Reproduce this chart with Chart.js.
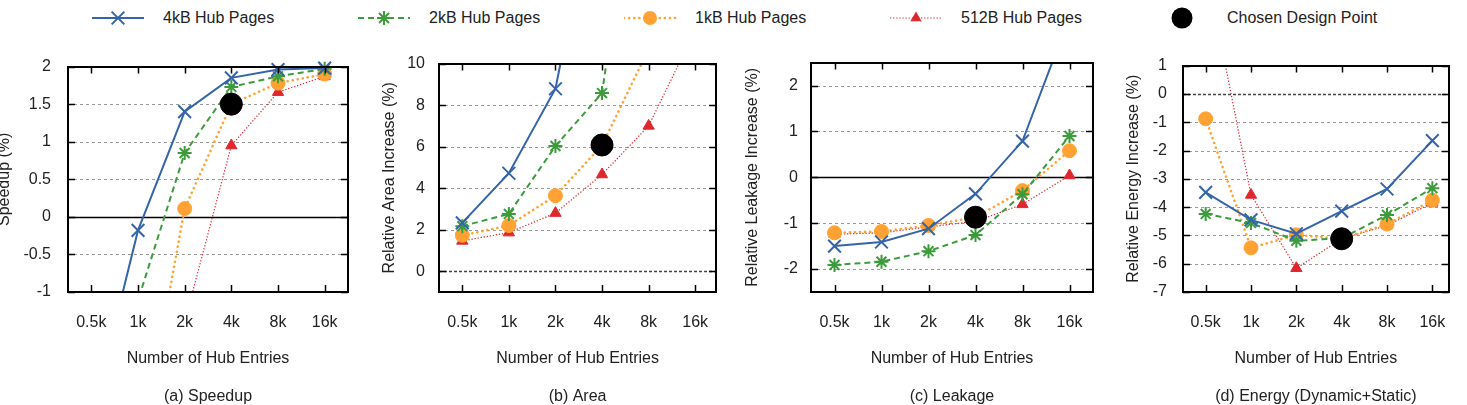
<!DOCTYPE html>
<html><head><meta charset="utf-8">
<script src="https://cdn.jsdelivr.net/npm/chart.js@4.4.0/dist/chart.umd.min.js"></script>
<style>
html,body{margin:0;padding:0;background:#fff;overflow:hidden;}
body{width:1467px;height:405px;position:relative;font-family:"Liberation Sans",Arial,sans-serif;}
.pane{position:absolute;top:40px;height:365px;}
.li{position:absolute;top:6px;height:24px;font-size:16px;color:#222;line-height:24px;white-space:nowrap;}
.li svg{position:absolute;left:0;top:0;}
.li span{position:absolute;left:71px;top:0;}
</style></head><body>
<div id="legend"></div>
<div class="pane" style="left:-10px;width:370px"><canvas id="ca" width="370" height="365"></canvas></div>
<div class="pane" style="left:360px;width:370px"><canvas id="cb" width="370" height="365"></canvas></div>
<div class="pane" style="left:730px;width:375px"><canvas id="cc" width="375" height="365"></canvas></div>
<div class="pane" style="left:1105px;width:362px"><canvas id="cd" width="362" height="365"></canvas></div>
<script>
// ---------- data ----------
const xLabels = ['0.5k', '1k', '2k', '4k', '8k', '16k'];
const seriesNames = ['4kB Hub Pages', '2kB Hub Pages', '1kB Hub Pages', '512B Hub Pages'];
const chosenName = 'Chosen Design Point';
const chosenIndex = 3; // 4k entries

// (a) Speedup (%)
const speedup4kB  = [-2.7, -0.18, 1.40, 1.85, 1.96, 1.98];
const speedup2kB  = [-4.2, -1.11, 0.85, 1.73, 1.87, 1.97];
const speedup1kB  = [-7.5, -3.3, 0.11, 1.50, 1.78, 1.90];
const speedup512B = [-12, -5.5, -1.40, 0.95, 1.66, 1.87];
const speedupChosen = 1.50;
const speedupTicks = [-1, -0.5, 0, 0.5, 1, 1.5, 2];

// (b) Area (%)
const area4kB  = [2.33, 4.72, 8.79, 20, 45, 90];
const area2kB  = [2.17, 2.76, 6.03, 8.58, 24, 50];
const area1kB  = [1.73, 2.20, 3.64, 6.06, 10.7, 20];
const area512B = [1.46, 1.86, 2.80, 4.66, 7.0, 11.6];
const areaChosen = 6.08;
const areaTicks = [0, 2, 4, 6, 8, 10];

// (c) Leakage (%)
const leak4kB  = [-1.50, -1.41, -1.12, -0.36, 0.79, 3.5];
const leak2kB  = [-1.91, -1.84, -1.61, -1.26, -0.37, 0.90];
const leak1kB  = [-1.21, -1.18, -1.05, -0.87, -0.29, 0.58];
const leak512B = [-1.24, -1.21, -1.08, -0.96, -0.59, 0.04];
const leakChosen = -0.87;
const leakTicks = [-2, -1, 0, 1, 2];

// (d) Energy (%)
const energy4kB  = [-3.48, -4.45, -4.94, -4.14, -3.36, -1.65];
const energy2kB  = [-4.24, -4.56, -5.19, -5.10, -4.28, -3.33];
const energy1kB  = [-0.88, -5.44, -4.98, -5.12, -4.60, -3.76];
const energy512B = [4.55, -3.57, -6.16, -5.12, -4.65, -3.85];
const energyChosen = -5.12;
const energyTicks = [-7, -6, -5, -4, -3, -2, -1, 0, 1];

// ---------- styles ----------
const FONT = '"Liberation Sans", Arial, sans-serif';
const TXT = '#222';
const styles = [
  {color:'#3565a8', dash:[], width:2, cap:'butt', point:'crossRot', radius:9, pw:2},
  {color:'#3c9c3c', dash:[6,4], width:2, cap:'butt', point:'star', radius:7, pw:2},
  {color:'#ffa233', dash:[0.1,5], width:2.6, cap:'round', point:'circle', radius:7, pw:1},
  {color:'#e0262e', dash:[1.3,1.8], width:1.2, cap:'butt', point:'triangle', radius:6.5, pw:1}
];

Chart.defaults.font.family = FONT;
Chart.defaults.font.size = 16;
Chart.defaults.color = TXT;

const framePlugin = {
  id: 'frame',
  beforeDatasetsDraw(chart, args, o) {
    const {ctx, chartArea: a, scales: {y}} = chart;
    ctx.save();
    o.ticks.forEach(v => {
      if (v <= y.min || v >= y.max) return;
      const py = Math.round(y.getPixelForValue(v)) + 0.5;
      ctx.beginPath();
      if (v === 0) {
        ctx.strokeStyle = o.zero === 'solid' ? '#000' : '#444';
        ctx.lineWidth = o.zero === 'solid' ? 1.3 : 1.3;
        ctx.setLineDash(o.zero === 'solid' ? [] : [3, 2]);
      } else {
        ctx.strokeStyle = '#9a9a9a';
        ctx.lineWidth = 1;
        ctx.setLineDash([3, 3]);
      }
      ctx.moveTo(a.left, py); ctx.lineTo(a.right, py); ctx.stroke();
    });
    ctx.restore();
  },
  afterDatasetsDraw(chart, args, o) {
    const {ctx, chartArea: a, scales: {x, y}} = chart;
    ctx.save();
    ctx.strokeStyle = '#000';
    ctx.lineWidth = 1.5;
    ctx.setLineDash([]);
    const L = 7;
    xLabels.forEach((_, i) => {
      const px = Math.round(x.getPixelForValue(i)) + 0.5;
      ctx.beginPath();
      ctx.moveTo(px, a.bottom); ctx.lineTo(px, a.bottom - L);
      ctx.moveTo(px, a.top); ctx.lineTo(px, a.top + L);
      ctx.stroke();
    });
    o.ticks.forEach(v => {
      const py = Math.round(y.getPixelForValue(v)) + 0.5;
      ctx.beginPath();
      ctx.moveTo(a.left, py); ctx.lineTo(a.left + L, py);
      ctx.moveTo(a.right, py); ctx.lineTo(a.right - L, py);
      ctx.stroke();
    });
    ctx.lineWidth = 2;
    ctx.strokeRect(Math.round(a.left), Math.round(a.top), Math.round(a.right - a.left), Math.round(a.bottom - a.top));
    ctx.restore();
  },
  afterDraw(chart, args, o) {
    const {ctx, chartArea: a} = chart;
    ctx.save();
    ctx.font = '16px ' + FONT;
    ctx.fillStyle = TXT;
    ctx.textAlign = 'center';
    ctx.textBaseline = 'middle';
    ctx.fillText(o.caption, (a.left + a.right) / 2, a.bottom + 105);
    ctx.restore();
  }
};

function makeSeries(vals, i, clip) {
  const s = styles[i];
  const d = {
    label: seriesNames[i],
    data: vals.map((v, k) => ({x: k, y: v})),
    borderColor: s.color, backgroundColor: s.color,
    borderWidth: s.width, borderDash: s.dash, borderCapStyle: s.cap,
    pointStyle: s.point, pointRadius: s.radius, pointBorderWidth: s.pw,
    pointBorderColor: s.color, pointBackgroundColor: s.color,
    order: i + 1
  };
  if (clip) d.clip = clip;
  return d;
}

function makeChart(id, P) {
  const datasets = P.series.map((v, i) => makeSeries(v, i, P.clip));
  datasets.push({
    label: chosenName,
    data: [{x: chosenIndex, y: P.chosen}],
    showLine: false, pointStyle: 'circle', pointRadius: 11,
    pointBackgroundColor: '#000', pointBorderColor: '#000', pointBorderWidth: 1,
    order: 0
  });
  new Chart(document.getElementById(id), {
    type: 'line',
    data: {datasets},
    options: {
      responsive: false, animation: false, events: [],
      layout: {padding: {left: 0, right: P.padR, top: 19, bottom: 0}},
      plugins: {
        legend: {display: false}, tooltip: {enabled: false},
        frame: {ticks: P.ticks, zero: P.zero, caption: P.caption}
      },
      scales: {
        x: {
          type: 'linear', min: -0.5, max: P.xMax,
          grid: {display: false, drawTicks: false}, border: {display: false},
          afterBuildTicks: s => { s.ticks = xLabels.map((_, i) => ({value: i})); },
          ticks: {callback: v => xLabels[v], padding: 21, autoSkip: false, maxRotation: 0, color: TXT},
          title: {display: true, text: 'Number of Hub Entries', color: TXT, padding: {top: 0, bottom: 37}},
          afterFit: s => { s.height = 113; }
        },
        y: {
          type: 'linear', min: P.yMin, max: P.yMax,
          grid: {display: false, drawTicks: false}, border: {display: false},
          afterBuildTicks: s => { s.ticks = P.ticks.map(v => ({value: v})); },
          ticks: {callback: v => String(v), padding: P.tp, color: TXT},
          title: {display: true, text: P.ytitle, color: TXT, padding: {top: P.tt, bottom: 0}},
          afterFit: s => { s.width = P.yw; }
        }
      }
    },
    plugins: [framePlugin]
  });
}

makeChart('ca', {series: [speedup4kB, speedup2kB, speedup1kB, speedup512B], chosen: speedupChosen,
  ticks: speedupTicks, yMin: -1, yMax: 2, xMax: 5.5, zero: 'solid', caption: '(a) Speedup',
  ytitle: 'Speedup (%)', yw: 78, padR: 10, tp: 17, tt: 4.5, clip: {left: 0, right: 0, top: 12, bottom: 0}});
makeChart('cb', {series: [area4kB, area2kB, area1kB, area512B], chosen: areaChosen,
  ticks: areaTicks, yMin: -1, yMax: 10, xMax: 5.45, zero: 'dash', caption: '(b) Area',
  ytitle: 'Relative Area Increase (%)', yw: 79, padR: 9, tp: 14, tt: 20});
makeChart('cc', {series: [leak4kB, leak2kB, leak1kB, leak512B], chosen: leakChosen,
  ticks: leakTicks, yMin: -2.5, yMax: 2.5, xMax: 5.5, zero: 'solid', caption: '(c) Leakage',
  ytitle: 'Relative Leakage Increase (%)', yw: 81, padR: 9, tp: 13, tt: 12.5});
makeChart('cd', {series: [energy4kB, energy2kB, energy1kB, energy512B], chosen: energyChosen,
  ticks: energyTicks, yMin: -7, yMax: 1, xMax: 5.36, zero: 'dash', caption: '(d) Energy (Dynamic+Static)',
  ytitle: 'Relative Energy Increase (%)', yw: 78, padR: 6, tp: 16, tt: 18.5});

// ---------- legend ----------
(function () {
  const NS = 'http://www.w3.org/2000/svg';
  const lefts = [92, 358, 624, 890, 1156];
  const leg = document.getElementById('legend');
  function el(tag, attrs, parent) {
    const e = document.createElementNS(NS, tag);
    for (const k in attrs) e.setAttribute(k, attrs[k]);
    parent.appendChild(e); return e;
  }
  const names = seriesNames.concat([chosenName]);
  names.forEach((name, i) => {
    const div = document.createElement('div');
    div.className = 'li';
    div.style.left = lefts[i] + 'px';
    const svg = el('svg', {width: 54, height: 24}, div);
    const cx = 26, cy = 12;
    if (i < 4) {
      const s = styles[i];
      el('line', {x1: 0, y1: cy, x2: 52, y2: cy, stroke: s.color, 'stroke-width': s.width,
        'stroke-dasharray': s.dash.length ? s.dash.join(' ') : 'none', 'stroke-linecap': s.cap}, svg);
      if (s.point === 'crossRot') {
        const o = s.radius * Math.SQRT1_2;
        el('path', {d: `M${cx-o} ${cy-o}L${cx+o} ${cy+o}M${cx+o} ${cy-o}L${cx-o} ${cy+o}`, stroke: s.color, 'stroke-width': s.pw}, svg);
      } else if (s.point === 'star') {
        const r = s.radius, o = r * Math.SQRT1_2;
        el('path', {d: `M${cx-r} ${cy}L${cx+r} ${cy}M${cx} ${cy-r}L${cx} ${cy+r}M${cx-o} ${cy-o}L${cx+o} ${cy+o}M${cx+o} ${cy-o}L${cx-o} ${cy+o}`, stroke: s.color, 'stroke-width': s.pw}, svg);
      } else if (s.point === 'circle') {
        el('circle', {cx, cy, r: s.radius, fill: s.color}, svg);
      } else {
        const r = s.radius, h = r * 0.866;
        el('polygon', {points: `${cx},${cy-r} ${cx+h},${cy+r/2} ${cx-h},${cy+r/2}`, fill: s.color}, svg);
      }
    } else {
      el('circle', {cx, cy, r: 10.5, fill: '#000'}, svg);
    }
    const sp = document.createElement('span');
    sp.textContent = name;
    div.appendChild(sp);
    leg.appendChild(div);
  });
})();
</script>
</body></html>
